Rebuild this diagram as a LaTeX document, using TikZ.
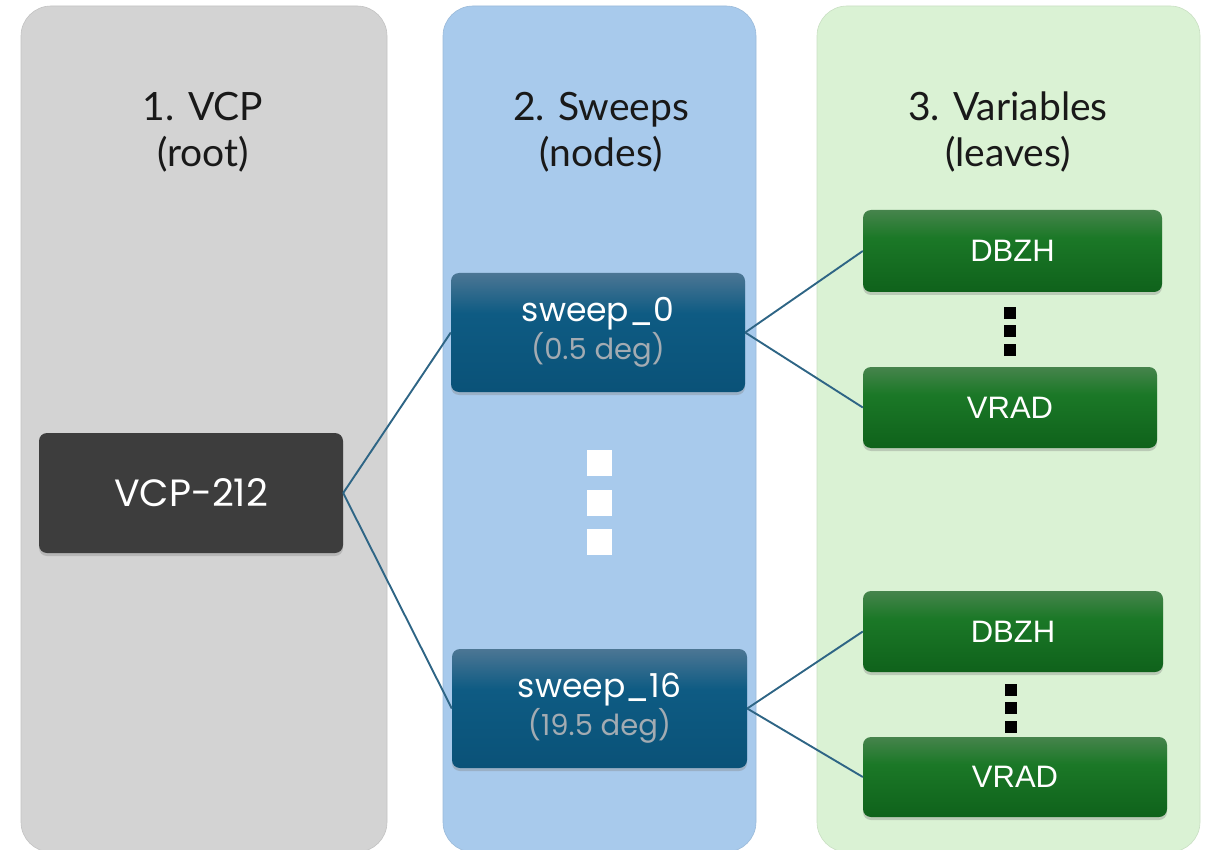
\documentclass[tikz,border=0pt]{standalone}
\usepackage{fontspec}
\setmainfont{Liberation Sans}
\newfontfamily\geofont{Poppins}
\newfontfamily\headfont{Lato}
\usetikzlibrary{shadows}

\definecolor{colgray}{HTML}{D3D3D3}
\definecolor{colblue}{HTML}{A8CAEC}
\definecolor{colgreen}{HTML}{DAF2D4}
\definecolor{rootfill}{HTML}{3D3D3D}
\definecolor{sweeptop}{HTML}{4C7694}
\definecolor{sweepmid}{HTML}{0E5B83}
\definecolor{sweepbot}{HTML}{0A5278}
\definecolor{leaftop}{HTML}{46844C}
\definecolor{leafmid}{HTML}{1B7827}
\definecolor{leafbot}{HTML}{0F621B}
\definecolor{linkcol}{HTML}{2E6585}
\definecolor{subgray}{HTML}{A3ABB2}

% vertical shadings: the path spans 25bp (bottom) to 75bp (top)
\pgfdeclareverticalshading{sweepshade}{100bp}{color(0bp)=(sweepbot); color(25bp)=(sweepbot); color(58bp)=(sweepmid); color(75bp)=(sweeptop); color(100bp)=(sweeptop)}
\pgfdeclareverticalshading{leafshade}{100bp}{color(0bp)=(leafbot); color(25bp)=(leafbot); color(58bp)=(leafmid); color(75bp)=(leaftop); color(100bp)=(leaftop)}

\tikzset{
  column/.style={rounded corners=30pt, draw=#1!92!black, line width=0.6pt, fill=#1},
  header/.style={anchor=north, align=center, inner sep=0pt, text=black!90,
    font=\headfont\fontsize{39}{46}\selectfont},
  box/.style={rectangle, rounded corners=8pt, inner sep=0pt, align=center,
    text=white, drop shadow={shadow xshift=0pt, shadow yshift=-3pt, opacity=0.35}},
  rootbox/.style={box, fill=rootfill, font=\geofont\fontsize{38}{40}\selectfont},
  sweepbox/.style={box, shading=sweepshade, font=\geofont\fontsize{33}{38}\selectfont},
  leafbox/.style={box, shading=leafshade, font=\fontsize{31}{36}\selectfont},
  link/.style={draw=linkcol, line width=1.9pt},
  whitedot/.style={fill=white},
  blackdot/.style={fill=black},
}

\begin{document}
\begin{tikzpicture}[x=1pt, y=-1pt]
\useasboundingbox (0,0) rectangle (1210,850);

% three column panels
\path[column=colgray]  (21,6)  rectangle (387,852);
\path[column=colblue]  (443,6) rectangle (756,852);
\path[column=colgreen] (817,6) rectangle (1200,852);

% column headers
\node[header] (h1) at (203,92)  {1. VCP\\(root)};
\node[header] (h2) at (601,92)  {2. Sweeps\\(nodes)};
\node[header] (h3) at (1008,92) {3. Variables\\(leaves)};

% root
\node[rootbox, minimum width=304pt, minimum height=120pt] (root) at (191,493) {VCP-212};

% sweeps
\node[sweepbox, minimum width=294pt, minimum height=119pt] (s0) at (598,332.5)
  {sweep\_0\\[0pt]{\fontsize{29}{32}\selectfont\color{subgray}(0.5 deg)}};
\node[sweepbox, minimum width=295pt, minimum height=119pt] (s16) at (599.5,708.5)
  {sweep\_16\\[0pt]{\fontsize{29}{32}\selectfont\color{subgray}(19.5 deg)}};

% variables
\node[leafbox, minimum width=299pt, minimum height=82pt] (d1) at (1012.5,251) {DBZH};
\node[leafbox, minimum width=294pt, minimum height=81pt] (v1) at (1010,407.5) {VRAD};
\node[leafbox, minimum width=300pt, minimum height=81pt] (d2) at (1013,631.5) {DBZH};
\node[leafbox, minimum width=304pt, minimum height=80pt] (v2) at (1015,777) {VRAD};

% connectors
\draw[link] (root.east) -- (s0.west);
\draw[link] (root.east) -- (s16.west);
\draw[link] (s0.east) -- (d1.west);
\draw[link] (s0.east) -- (v1.west);
\draw[link] (s16.east) -- (d2.west);
\draw[link] (s16.east) -- (v2.west);

% ellipsis between the sweeps
\foreach \yy in {450,490,529}
  \fill[whitedot] (586.5,\yy) rectangle ++(25,26);

% ellipses between the variables
\foreach \yy in {307,325,344}
  \fill[blackdot] (1003.5,\yy) rectangle ++(12,12);
\foreach \yy in {684,702,721}
  \fill[blackdot] (1004.5,\yy) rectangle ++(12,12);
\end{tikzpicture}
\end{document}
